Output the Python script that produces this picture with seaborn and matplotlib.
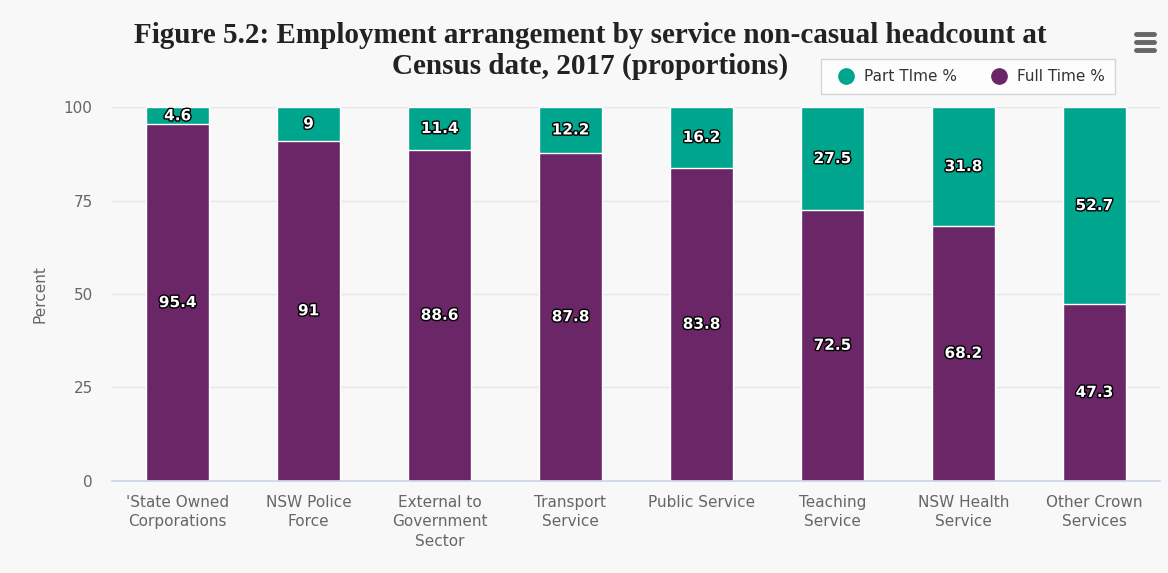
import numpy as np
import pandas as pd
import seaborn as sns
import matplotlib.pyplot as plt
import matplotlib.patheffects as pe
from matplotlib.lines import Line2D

# data
services = ["'State Owned\nCorporations", "NSW Police\nForce", "External to\nGovernment\nSector",
            "Transport\nService", "Public Service", "Teaching\nService", "NSW Health\nService",
            "Other Crown\nServices"]
full_time = [95.4, 91, 88.6, 87.8, 83.8, 72.5, 68.2, 47.3]
part_time = [4.6, 9, 11.4, 12.2, 16.2, 27.5, 31.8, 52.7]
title_lines = ["Figure 5.2: Employment arrangement by service non-casual headcount at",
               "Census date, 2017 (proportions)"]

teal = "#00a58d"
purple = "#6b2667"
bg = "#f8f8f8"

df = pd.DataFrame({"Service": services, "Full": full_time, "Part": part_time})
df["Total"] = df["Full"] + df["Part"]

sns.set_theme(style="white")
plt.rcParams["font.family"] = ["DejaVu Sans"]

fig = plt.figure(figsize=(11.68, 5.73), dpi=100, facecolor=bg)
ax = fig.add_axes([0.096, 0.161, 0.897, 0.652])
ax.set_facecolor(bg)

# part time on top: draw the stack total in teal, then full time over it
sns.barplot(data=df, x="Service", y="Total", color=teal, width=0.48, saturation=1,
            edgecolor="white", linewidth=1, ax=ax, zorder=3)
sns.barplot(data=df, x="Service", y="Full", color=purple, width=0.48, saturation=1,
            edgecolor="white", linewidth=1, ax=ax, zorder=4)

outline = [pe.withStroke(linewidth=2.0, foreground="black")]
for i, (f, p) in enumerate(zip(full_time, part_time)):
    ax.text(i, f + p / 2, f"{p:g}", ha="center", va="center", color="white",
            fontsize=11, fontweight="bold", path_effects=outline, zorder=6)
    ax.text(i, f / 2, f"{f:g}", ha="center", va="center", color="white",
            fontsize=11, fontweight="bold", path_effects=outline, zorder=6)

ax.set_ylim(0, 100)
ax.set_xlim(-0.5, len(services) - 0.5)
ax.set_yticks([0, 25, 50, 75, 100])
ax.yaxis.grid(True, color="#e6e6e6", linewidth=1, zorder=0)
ax.set_axisbelow(True)
for s in ["top", "right", "left"]:
    ax.spines[s].set_visible(False)
ax.spines["bottom"].set_color("#ccd6eb")
ax.spines["bottom"].set_zorder(7)

ax.set_xticks(np.arange(-0.5, len(services)), minor=True)
ax.tick_params(axis="x", which="minor", length=11, color="#ccd6eb", width=1)
ax.tick_params(axis="x", which="major", length=0, pad=10, labelsize=11, labelcolor="#666666")
for lbl in ax.get_xticklabels():
    lbl.set_linespacing(1.4)
ax.tick_params(axis="y", length=0, pad=14, labelsize=11, labelcolor="#666666")
ax.set_xlabel("")
ax.set_ylabel("Percent", color="#666666", fontsize=11, labelpad=12)

# two-line title, each line as its own text
for txt, yy in zip(title_lines, [0.938, 0.884]):
    fig.text(0.505, yy, txt, ha="center", va="center", fontsize=21, fontweight="bold",
             family=["Liberation Serif"], color="#222222")

handles = [Line2D([], [], marker="o", linestyle="", markersize=11, color=teal),
           Line2D([], [], marker="o", linestyle="", markersize=11, color=purple)]
leg = fig.legend(handles, ["Part TIme %", "Full Time %"], ncol=2, loc="upper right",
                 bbox_to_anchor=(0.961, 0.91), frameon=True, fontsize=11,
                 handletextpad=0.2, columnspacing=1.7, borderpad=0.65, fancybox=False)
leg.get_frame().set_edgecolor("#cccccc")
leg.get_frame().set_facecolor("white")
for t in leg.get_texts():
    t.set_color("#333333")

# hamburger menu icon
for yy in [0.940, 0.926, 0.912]:
    fig.add_artist(Line2D([0.973, 0.988], [yy, yy], color="#666666", linewidth=3.5,
                          solid_capstyle="round"))

fig.savefig("out.png", dpi=100, facecolor=bg)
